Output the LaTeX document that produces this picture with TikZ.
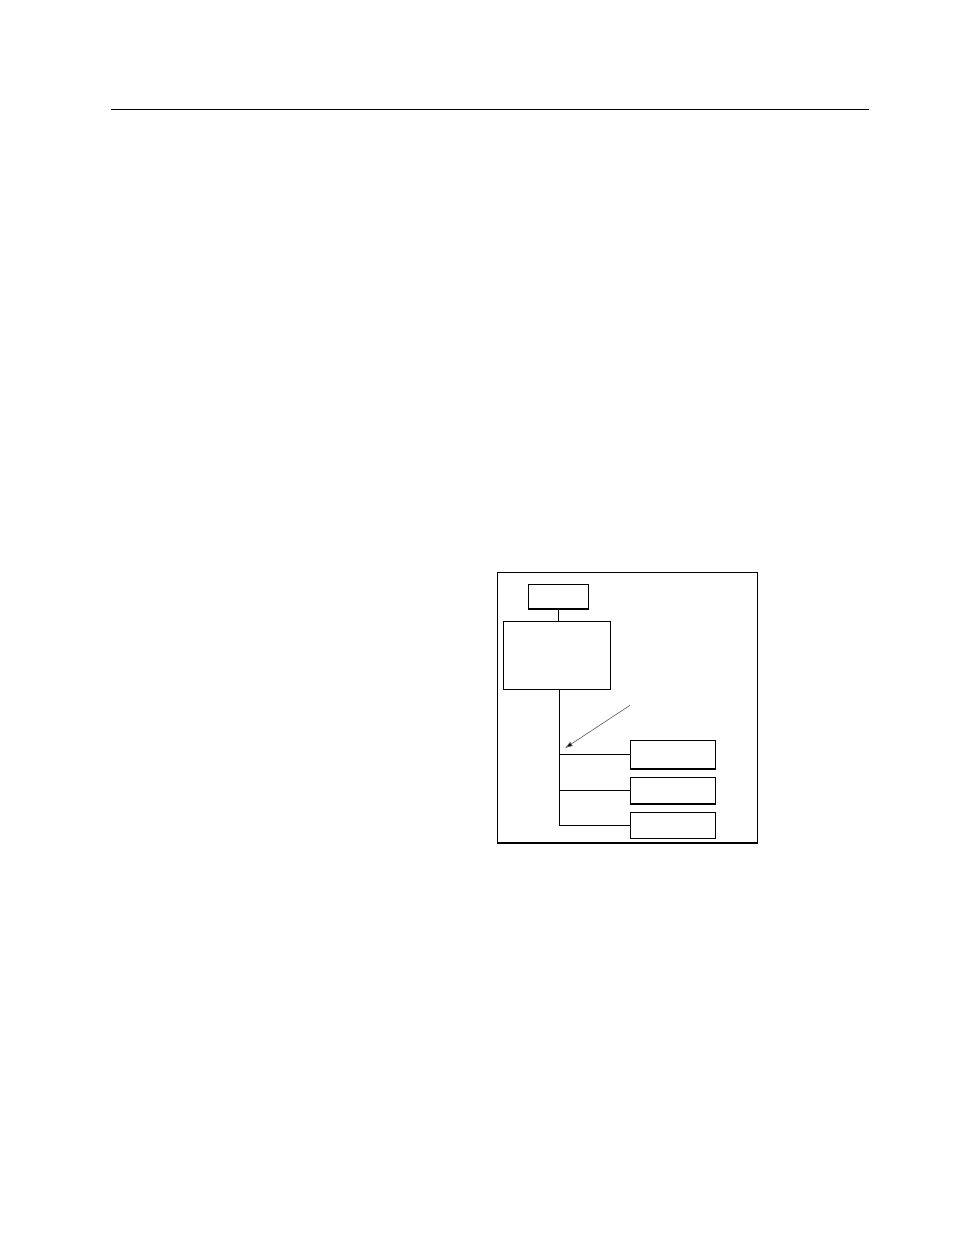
\documentclass[tikz,border=0pt]{standalone}
\usetikzlibrary{arrows.meta}
\def\pxu{0.75pt}
\begin{document}
\begin{tikzpicture}[x=0.75pt,y=-0.75pt,
  boxnode/.style={draw=black,line width=0.8pt,inner sep=0pt,fill=none},
  wire/.style={draw=black,line width=0.8pt},
  pointer/.style={draw=black!60,line width=0.5pt,-{Latex[length=8*\pxu,width=5*\pxu,fill=black]}}]
\useasboundingbox (0,0) rectangle (954,1235);
% top rule
\coordinate (rl) at (111,109.3);
\coordinate (rr) at (869,109.3);
\draw[wire,line width=1pt] (rl) -- (rr);
% outer frame
\node[boxnode,minimum width=260*\pxu,minimum height=270.7*\pxu] (frame) at (627.3,707.65) {};
% small top box
\node[boxnode,minimum width=60*\pxu,minimum height=24.7*\pxu] (top) at (558.3,596.65) {};
% big box
\node[boxnode,minimum width=107*\pxu,minimum height=68*\pxu] (big) at (556.8,655.3) {};
% right boxes
\node[boxnode,minimum width=85*\pxu,minimum height=28.7*\pxu] (b1) at (672.8,754.65) {};
\node[boxnode,minimum width=85*\pxu,minimum height=26.7*\pxu] (b2) at (672.8,790.65) {};
\node[boxnode,minimum width=85*\pxu,minimum height=26*\pxu] (b3) at (672.8,825.3) {};
% connectors
\draw[wire] (top.south) -- (top.south |- big.north);
\coordinate (t0) at (559.3,689.3);
\draw[wire] (t0) |- (b3.west);
\draw[wire] (b1.west -| t0) -- (b1.west);
\draw[wire] (b2.west -| t0) -- (b2.west);
% pointer arrow
\coordinate (as) at (630,705.3);
\coordinate (ae) at (564.7,748.3);
\draw[pointer] (as) -- (ae);
\end{tikzpicture}
\end{document}
